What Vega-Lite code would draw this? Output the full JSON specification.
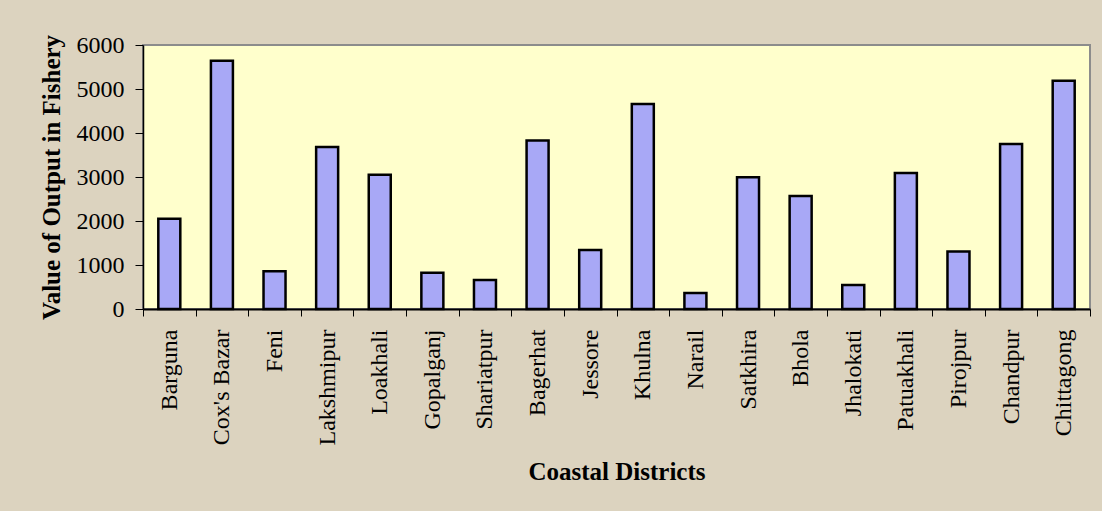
{
  "$schema": "https://vega.github.io/schema/vega-lite/v6.json",
  "autosize": {"type": "none"},
  "padding": {"left": 143, "top": 45, "right": 12, "bottom": 202},
  "width": 947,
  "height": 264,
  "background": "#DCD3BF",
  "config": {
    "view": {"fill": "#FFFFCC", "stroke": "#8C8C8C", "strokeWidth": 2},
    "font": "Liberation Serif"
  },
  "data": {
    "values": [
      {"district": "Barguna", "value": 2050},
      {"district": "Cox's Bazar", "value": 5640},
      {"district": "Feni", "value": 860},
      {"district": "Lakshmipur", "value": 3680},
      {"district": "Loakhali", "value": 3050},
      {"district": "Gopalganj", "value": 825},
      {"district": "Shariatpur", "value": 660},
      {"district": "Bagerhat", "value": 3830},
      {"district": "Jessore", "value": 1340},
      {"district": "Khulna", "value": 4660},
      {"district": "Narail", "value": 365},
      {"district": "Satkhira", "value": 2995},
      {"district": "Bhola", "value": 2570},
      {"district": "Jhalokati", "value": 545},
      {"district": "Patuakhali", "value": 3090},
      {"district": "Pirojpur", "value": 1305},
      {"district": "Chandpur", "value": 3750},
      {"district": "Chittagong", "value": 5185}
    ]
  },
  "mark": {"type": "bar", "fill": "#A8A8F6", "stroke": "#000000", "strokeWidth": 2.5, "width": 22},
  "encoding": {
    "x": {
      "field": "district",
      "type": "nominal",
      "sort": null,
      "scale": {"paddingInner": 0, "paddingOuter": 0},
      "axis": {
        "title": "Coastal Districts",
        "titleFont": "Liberation Serif",
        "titleFontSize": 25,
        "titleFontWeight": "bold",
        "titleColor": "#000000",
        "titleY": 162,
        "titleBaseline": "middle",
        "labelAngle": -90,
        "labelAlign": "right",
        "labelBaseline": "middle",
        "labelFont": "Liberation Serif",
        "labelFontSize": 24,
        "labelColor": "#000000",
        "labelPadding": 13,
        "tickBand": "extent",
        "tickSize": 7,
        "tickColor": "#000000",
        "domainColor": "#000000",
        "domainWidth": 2,
        "grid": false
      }
    },
    "y": {
      "field": "value",
      "type": "quantitative",
      "scale": {"domain": [0, 6000], "nice": false},
      "axis": {
        "title": "Value of Output in Fishery",
        "titleFont": "Liberation Serif",
        "titleFontSize": 25,
        "titleFontWeight": "bold",
        "titleColor": "#000000",
        "titleX": -92,
        "titleY": 132,
        "titleAlign": "center",
        "titleBaseline": "middle",
        "titleAngle": -90,
        "values": [0, 1000, 2000, 3000, 4000, 5000, 6000],
        "format": "d",
        "labelFont": "Liberation Serif",
        "labelFontSize": 24,
        "labelColor": "#000000",
        "labelPadding": 11,
        "tickSize": 8,
        "tickColor": "#000000",
        "domainColor": "#000000",
        "domainWidth": 1.5,
        "grid": false
      }
    }
  }
}
